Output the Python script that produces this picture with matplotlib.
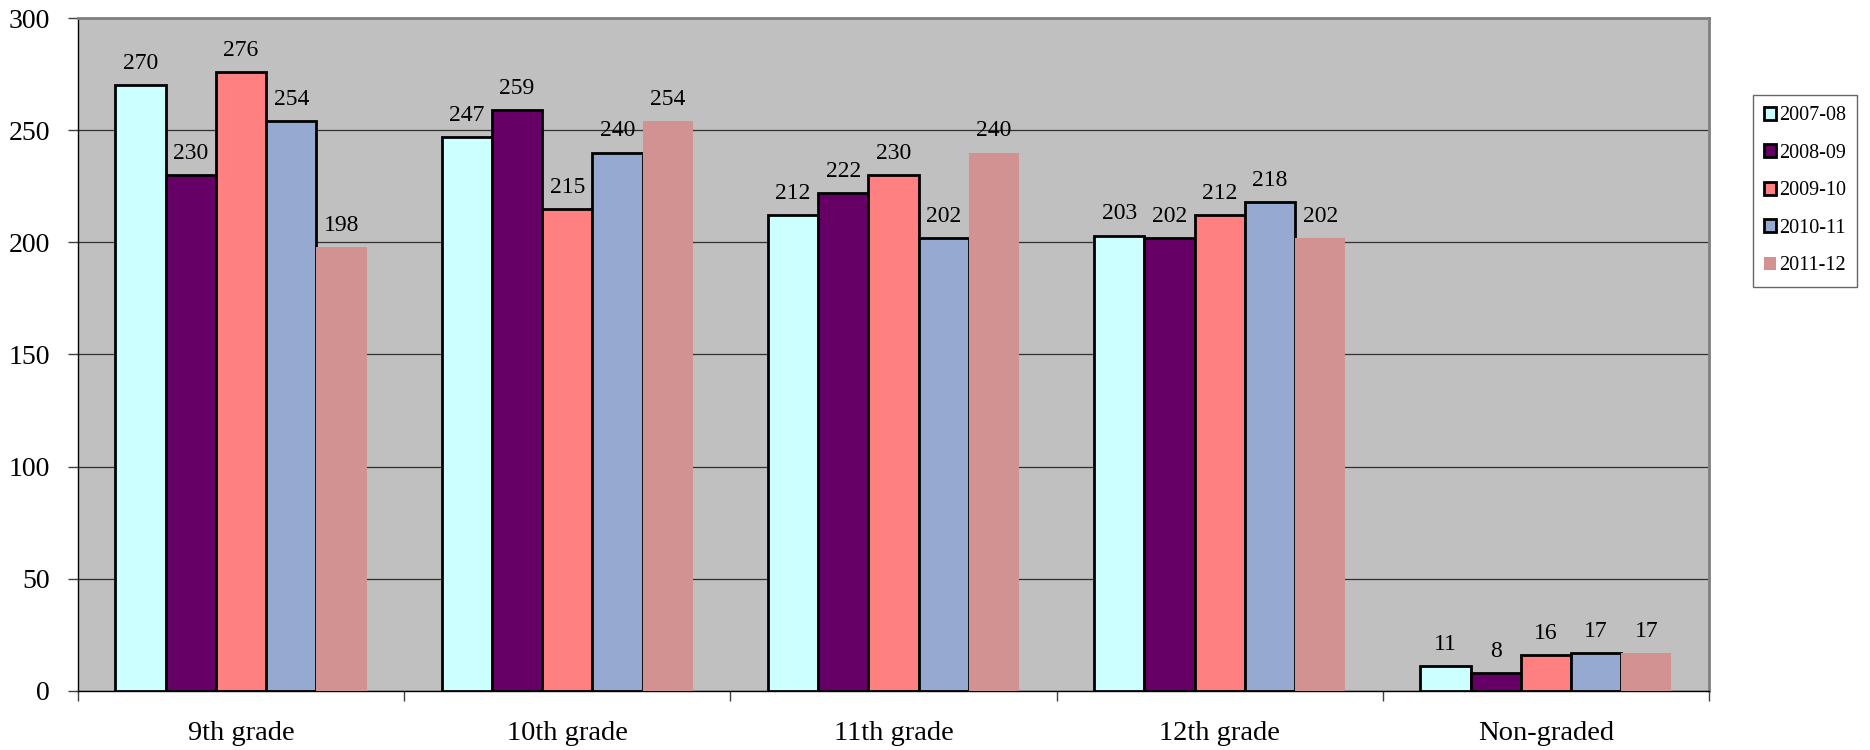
import matplotlib.pyplot as plt
import numpy as np

# grades and school years
categories = ["9th grade", "10th grade", "11th grade", "12th grade", "Non-graded"]
years = ["2007-08", "2008-09", "2009-10", "2010-11", "2011-12"]
counts = {
    "2007-08": [270, 247, 212, 203, 11],
    "2008-09": [230, 259, 222, 202, 8],
    "2009-10": [276, 215, 230, 212, 16],
    "2010-11": [254, 240, 202, 218, 17],
    "2011-12": [198, 254, 240, 202, 17],
}
colors = ["#CCFFFF", "#660066", "#FF8080", "#96A9D1", "#D39292"]
edged = [True, True, True, True, False]

plt.rcParams['font.family'] = ['Liberation Serif', 'DejaVu Serif']

fig = plt.figure(figsize=(18.7, 7.5), dpi=100)
ax = fig.add_axes([0.0417, 0.079, 0.8722, 0.897])
ax.set_facecolor("#C0C0C0")

x = np.arange(len(categories))
w = 0.77 / len(years)
for i, yr in enumerate(years):
    pos = x - 0.385 + w * (i + 0.5)
    if edged[i]:
        b = ax.bar(pos, counts[yr], w, color=colors[i], edgecolor="black", linewidth=2, label=yr, zorder=3)
    else:
        b = ax.bar(pos, counts[yr], w, color=colors[i], linewidth=0, label=yr, zorder=3)
    ax.bar_label(b, padding=8, fontsize=17)

ax.set_xlim(-0.5, len(categories) - 0.5)
ax.set_ylim(0, 300)
ax.set_yticks(np.arange(0, 301, 50))
ax.yaxis.grid(True, color="#303030", linewidth=0.9, zorder=0)
ax.set_axisbelow(True)

ax.set_xticks(x)
ax.set_xticklabels(categories, fontsize=20.5)
ax.set_xticks(np.arange(-0.5, len(categories)), minor=True)
ax.tick_params(axis="x", which="major", length=0, pad=22)
ax.tick_params(axis="x", which="minor", length=7, width=1, color="#404040")
ax.tick_params(axis="y", labelsize=20, length=7, width=1, color="#404040", pad=13)

for s in ["top", "right"]:
    ax.spines[s].set_color("#808080")
    ax.spines[s].set_linewidth(2)
for s in ["left", "bottom"]:
    ax.spines[s].set_color("black")
    ax.spines[s].set_linewidth(1)

leg = fig.legend(loc="upper left", bbox_to_anchor=(0.9374, 0.873), fontsize=14.5,
                 frameon=True, fancybox=False, edgecolor="#404040",
                 handlelength=0.6, handleheight=0.6, handletextpad=0.15,
                 labelspacing=0.92, borderpad=0.55, borderaxespad=0)
leg.get_frame().set_linewidth(1)

plt.savefig("out.png", dpi=100)
plt.close()
